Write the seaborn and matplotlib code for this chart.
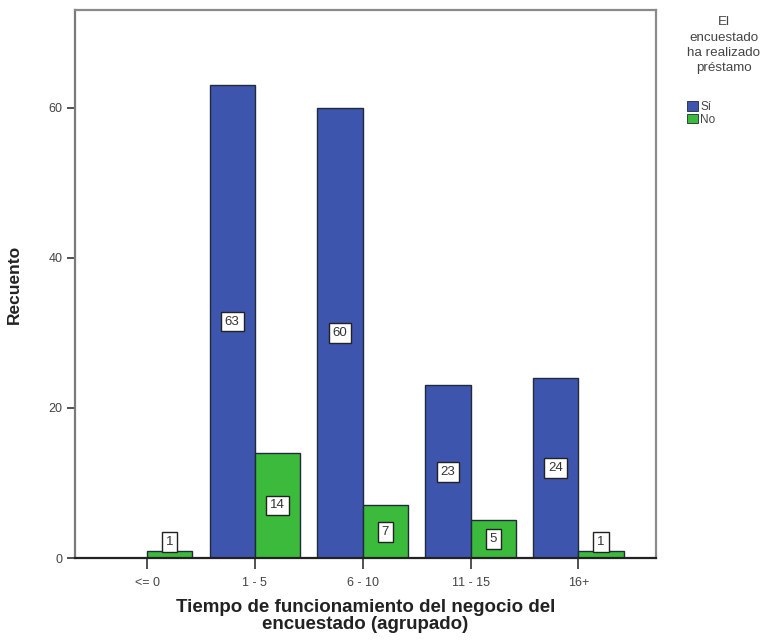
import matplotlib
matplotlib.use("Agg")
import matplotlib.pyplot as plt
import seaborn as sns
import pandas as pd
from matplotlib.patches import Patch

# Grouped counts of business age by whether the respondent took a loan
categories = ["<= 0", "1 - 5", "6 - 10", "11 - 15", "16+"]
groups = ["Sí", "No"]
si_counts = [0, 63, 60, 23, 24]
no_counts = [1, 14, 7, 5, 1]
y_ticks = [0, 20, 40, 60]

colors = {"Sí": "#3e55ae", "No": "#3cba3c"}

df = pd.DataFrame({
    "tiempo": categories * 2,
    "prestamo": ["Sí"] * len(categories) + ["No"] * len(categories),
    "recuento": si_counts + no_counts,
})

sns.set_theme(style="white")
plt.rcParams["font.family"] = ["Liberation Sans", "DejaVu Sans"]

fig = plt.figure(figsize=(7.6, 6.44), dpi=100)
ax = fig.add_axes([0.0987, 0.1335, 0.7645, 0.851])

sns.barplot(data=df, x="tiempo", y="recuento", hue="prestamo",
            order=categories, hue_order=groups, palette=colors,
            width=0.84, edgecolor="#1f2a3a", linewidth=1.0,
            saturation=1, legend=False, ax=ax)

ax.set_xlim(-0.668, 4.72)
ax.set_ylim(0, 73)
ax.set_yticks(y_ticks)
ax.tick_params(axis="both", direction="out", length=6, width=1.2,
               color="#333333", labelsize=9, labelcolor="#444444", pad=3)
ax.tick_params(axis="x", length=8, pad=6)
ax.tick_params(bottom=True, left=True)

for side in ["top", "right"]:
    ax.spines[side].set_color("#8a8a8a")
    ax.spines[side].set_linewidth(1.6)
ax.spines["left"].set_color("#7a7a7a")
ax.spines["left"].set_linewidth(1.6)
ax.spines["bottom"].set_color("#222222")
ax.spines["bottom"].set_linewidth(1.6)

ax.set_ylabel("Recuento", fontsize=12.5, fontweight="bold", color="#222222")
ax.yaxis.set_label_coords(-0.092, 0.5)
ax.set_xlabel("Tiempo de funcionamiento del negocio del\nencuestado (agrupado)",
              fontsize=13.5, fontweight="bold", labelpad=7, linespacing=0.98,
              color="#222222")

# Value labels in white boxes, centred in each bar
series = [si_counts, no_counts]
for container, values in zip(ax.containers, series):
    for bar, v in zip(container, values):
        if v == 0:
            continue
        xc = bar.get_x() + bar.get_width() / 2
        yc = max(v / 2, 2.1)
        ax.text(xc, yc, str(v), ha="center", va="center", fontsize=9.5,
                color="#333333",
                bbox=dict(boxstyle="square,pad=0.3", facecolor="white",
                          edgecolor="#222222", linewidth=1.0))

# Legend with centred title
fig.text(0.952, 0.975, "El\nencuestado\nha realizado\npréstamo",
         ha="center", va="top", fontsize=9.6, color="#444444",
         linespacing=1.38)
handles = [Patch(facecolor=colors[g], edgecolor="#1f2a3a", linewidth=0.6)
           for g in groups]
fig.legend(handles, groups, loc="upper left",
           bbox_to_anchor=(0.904, 0.843), frameon=False, fontsize=8.5,
           handlelength=0.95, handleheight=0.85, handletextpad=0.15,
           labelspacing=0.05, borderpad=0, borderaxespad=0,
           labelcolor="#444444")

fig.savefig("out.png", dpi=100)
